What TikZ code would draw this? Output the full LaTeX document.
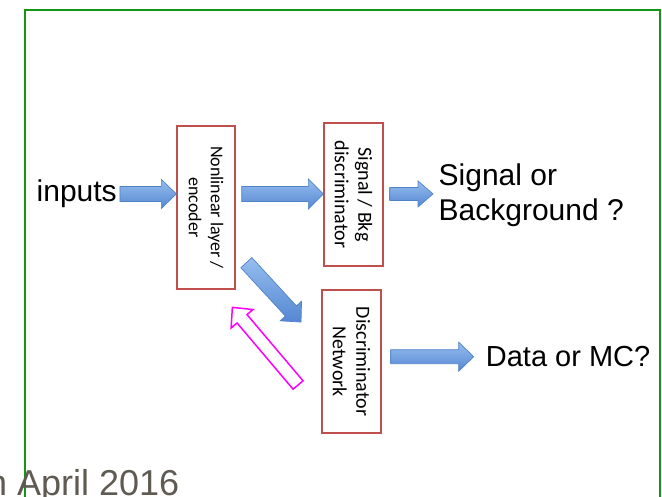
\documentclass[tikz,border=0pt]{standalone}
\usepackage{fontspec}
\setmainfont{Liberation Sans}
\newfontfamily\calibri{Carlito}
\usetikzlibrary{calc}

\definecolor{framegreen}{RGB}{20,150,20}
\definecolor{boxred}{RGB}{192,80,77}
\definecolor{arrowline}{RGB}{80,130,200}
\definecolor{arrowtop}{RGB}{150,190,238}
\definecolor{arrowbot}{RGB}{85,135,210}
\definecolor{backpink}{RGB}{255,0,255}
\definecolor{dategrey}{RGB}{95,90,82}

% block arrow: [style]{from}{to}{half shaft}{half head}
\newcommand{\blockarrow}[5][bluearrow]{%
  \coordinate (ba-s) at (#2);
  \coordinate (ba-e) at (#3);
  \coordinate (ba-h) at ($(ba-e)!15pt!(ba-s)$);
  \path[#1] ($(ba-s)!#4!90:(ba-e)$) -- ($(ba-h)!#4!90:(ba-e)$)
    -- ($(ba-h)!#5!90:(ba-e)$) -- (ba-e) -- ($(ba-h)!#5!-90:(ba-e)$)
    -- ($(ba-h)!#4!-90:(ba-e)$) -- ($(ba-s)!#4!-90:(ba-e)$) -- cycle;
}

\begin{document}
\begin{tikzpicture}[x=1pt,y=-1pt,
  box/.style={draw=boxred, line width=1.3pt, align=center, inner sep=0pt, rotate=-90},
  word/.style={inner sep=0pt, font=\fontsize{30}{35}\selectfont},
  bluearrow/.style={draw=arrowline, line width=0.7pt, top color=arrowtop, bottom color=arrowbot},
  pinkarrow/.style={draw=backpink, line width=1.5pt, fill=white}]

  \useasboundingbox (0,0) rectangle (662,497);
  \clip (0,0) rectangle (662,497);

  \draw[framegreen, line width=2pt] (25,520) -- (25,10) -- (660,10) -- (660,520);

  \node[word, anchor=base west] (inputs) at (36.5,201.7) {inputs};

  % boxes are turned: north = right side, south = left side
  \node[box, minimum width=163, minimum height=58, font=\calibri\fontsize{18}{22}\selectfont]
    (enc) at (206,207.5) {Nonlinear layer /\\encoder};
  \node[box, minimum width=143, minimum height=59, font=\calibri\fontsize{20}{23.5}\selectfont]
    (sigbkg) at (353.5,194.5) {Signal / Bkg\\discriminator};
  \node[box, minimum width=143, minimum height=59, font=\calibri\fontsize{20}{23.5}\selectfont]
    (disc) at (351.5,361.5) {Discriminator\\Network};

  \node[word, anchor=west, align=left] (answer) at (438.5,195) {Signal or\\Background ?};
  \node[word, anchor=base west, font=\fontsize{29}{35}\selectfont] (datamc) at (485.7,366.7) {Data or MC?};

  \blockarrow{$(inputs.east)+(3,0)$}{inputs.east -| enc.south}{7.5pt}{14.5pt}
  \blockarrow{$(enc.north |- inputs.east)+(6,0)$}{inputs.east -| sigbkg.south}{7.5pt}{15pt}
  \blockarrow{$(sigbkg.north |- inputs.east)+(6,0)$}{$(answer.west |- inputs.east)+(-5.5,0)$}{6.5pt}{13pt}
  \blockarrow{$(enc.north east)+(10.7,-27)$}{$(disc.south west)+(-20.3,32.7)$}{7.5pt}{14.5pt}
  \blockarrow{$(disc.north |- datamc.west)+(9,0)$}{$(datamc.west)+(-12,0)$}{7pt}{14.5pt}

  \blockarrow[pinkarrow]{$(disc.south)+(-23.3,23.5)$}{$(enc.north east)+(-3.3,17.7)$}{6.5pt}{14.3pt}

  \node[inner sep=0pt, anchor=base west, dategrey, font=\fontsize{36}{40}\selectfont]
    (date) at (-13,495) {n April 2016};
\end{tikzpicture}
\end{document}
